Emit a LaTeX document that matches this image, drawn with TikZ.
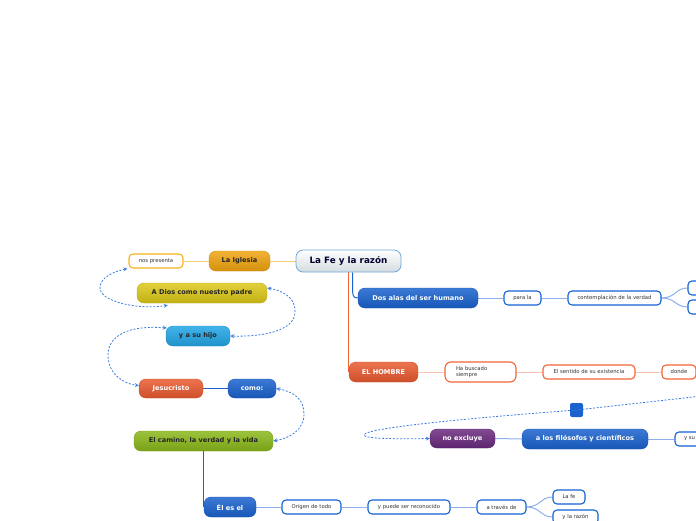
\documentclass[tikz,border=0pt]{standalone}
\usepackage{fontspec}
\setmainfont{DejaVu Sans}
\usetikzlibrary{arrows.meta,backgrounds,calc}

\definecolor{rootfill}{HTML}{D4DCE0}
\definecolor{rootline}{HTML}{6FA8DC}
\definecolor{orangetop}{HTML}{F0A410}
\definecolor{yellowtop}{HTML}{DCC818}
\definecolor{cyantop}{HTML}{22A6E6}
\definecolor{redtop}{HTML}{EA5A30}
\definecolor{bluetop}{HTML}{1A62CE}
\definecolor{greentop}{HTML}{8AB81A}
\definecolor{purpletop}{HTML}{6A2A7E}
\definecolor{subblue}{HTML}{1262D4}
\definecolor{subred}{HTML}{F06434}
\definecolor{subgold}{HTML}{F4B41C}
\definecolor{relblue}{HTML}{3C7EE0}
\definecolor{lineblue}{HTML}{8CB0EC}
\definecolor{linered}{HTML}{F8C4B0}
\definecolor{linegold}{HTML}{F8CC70}

\tikzset{
  topic/.style={rounded corners=7pt, minimum height=20pt, inner sep=0pt,
    font=\fontsize{6.6}{7.5}\selectfont\bfseries, text=white,
    draw=#1!85!black, line width=0.4pt,
    top color=#1!85!white, bottom color=#1!88!black},
  darktext/.style={text=black!85},
  sub/.style={rounded corners=4pt, minimum height=14pt, inner sep=0pt,
    font=\fontsize{5.3}{6}\selectfont, text=black!80,
    draw=#1, line width=1.1pt, fill=white},
  link/.style={draw=#1, line width=1pt},
  rel/.style={draw=relblue, line width=0.8pt, dash pattern=on 2pt off 1.6pt,
    stealth-stealth},
}

\begin{document}
\begin{tikzpicture}[x=1pt, y=-1pt]
  \useasboundingbox (0,0) rectangle (696,520);
  \clip (0,0) rectangle (696,520);
  % central topic
  \node[rounded corners=7pt, minimum height=22pt, minimum width=105pt, inner sep=0pt,
        draw=rootline, line width=0.8pt, top color=white, bottom color=rootfill,
        text=black!70!blue!60!black, font=\fontsize{8.8}{10}\selectfont\bfseries]
        (fe) at (348.5,261) {La Fe y la razón};
  % left side
  \node[topic=orangetop, darktext, minimum width=61pt] (iglesia) at (239.5,261) {La Iglesia};
  \node[sub=subgold, minimum width=54pt] (presenta) at (156,261) {nos presenta};
  \node[topic=yellowtop, darktext, minimum width=130pt] (dios) at (202,293) {A Dios como nuestro padre};
  \node[topic=cyantop, darktext, minimum width=64pt] (hijo) at (198,336) {y a su hijo};
  \node[topic=redtop, minimum width=64pt, minimum height=19pt] (jesus) at (171,388.5) {Jesucristo};
  \node[topic=bluetop, minimum width=48pt, minimum height=19pt] (como) at (252,388.5) {como:};
  \node[topic=greentop, darktext, minimum width=139pt] (camino) at (203.5,441) {El camino, la verdad y la vida};
  \node[topic=bluetop, minimum width=52pt] (eles) at (230,507) {Él es el};
  \node[sub=subblue, minimum width=59pt] (origen) at (311.5,507) {Origen de todo};
  \node[sub=subblue, minimum width=82pt] (reconocido) at (409,507) {y puede ser reconocido};
  \node[sub=subblue, minimum width=49pt] (traves) at (501.5,507) {a través de};
  \node[sub=subblue, minimum width=32pt] (lafe) at (569,497) {La fe};
  \node[sub=subblue, minimum width=45pt] (razon) at (575.5,517) {y la razón};
  % right side
  \node[topic=bluetop, minimum width=120pt] (dosalas) at (418,298) {Dos alas del ser humano};
  \node[sub=subblue, minimum width=37pt] (parala) at (522.5,298) {para la};
  \node[sub=subblue, minimum width=93pt] (contemp) at (614.5,298) {contemplación de la verdad};
  \node[sub=subblue, minimum width=40pt] (ala1) at (708,288) {};
  \node[sub=subblue, minimum width=40pt] (ala2) at (708,307) {};
  \node[topic=redtop, minimum width=69pt] (hombre) at (383.5,372) {EL HOMBRE};
  \node[sub=subred, minimum width=71pt, minimum height=20pt, text width=49pt, align=left,
        rounded corners=6pt, font=\fontsize{5.3}{5.8}\selectfont] (buscado) at (480.5,372) {Ha buscado\\siempre};
  \node[sub=subred, minimum width=92pt] (sentido) at (589,372) {El sentido de su existencia};
  \node[sub=subred, minimum width=34pt] (donde) at (679,372) {donde};
  \node[topic=purpletop, minimum width=65pt, minimum height=19pt] (noexcluye) at (462.5,438.5) {no excluye};
  \node[topic=bluetop, minimum width=126pt] (filosofos) at (585,439) {a los filósofos y científicos};
  \node[sub=subblue, minimum width=40pt, text width=22pt, align=left] (ysu) at (695,439) {y su};
  \node[rounded corners=2pt, minimum width=13pt, minimum height=14pt, inner sep=0pt,
        fill=bluetop] (mark) at (576.5,410) {};
  \coordinate (relstart) at (702,396);

  \begin{scope}[on background layer]
    % branches
    \path[link=linegold] (fe.west) -- (iglesia.east);
    \path[link=linegold] (iglesia.west) -- (presenta.east);
    \path[link=bluetop] ([xshift=4pt]fe.south) -- ++(0,14) .. controls +(0,9) and +(-5,0) .. (dosalas.west);
    \path[link=subred] (fe.south) -- (fe.south |- hombre.west);
    \path[link=lineblue] (dosalas.east) -- (parala.west);
    \path[link=lineblue] (parala.east) -- (contemp.west);
    \path[link=lineblue] (contemp.east) .. controls +(14,0) and +(-12,0) .. (ala1.west);
    \path[link=lineblue] (contemp.east) .. controls +(14,0) and +(-12,0) .. (ala2.west);
    \path[link=linered] (hombre.east) -- (buscado.west);
    \path[link=linered] (buscado.east) -- (sentido.west);
    \path[link=linered] (sentido.east) -- (donde.west);
    \path[link=lineblue] (noexcluye.east) -- (filosofos.west);
    \path[link=lineblue] (filosofos.east) -- (ysu.west);
    \path[link=bluetop] (jesus.east) -- (como.west);
    \path[link=bluetop] (camino.south) -- (camino.south |- eles.west);
    \path[link=lineblue] (eles.east) -- (origen.west);
    \path[link=lineblue] (origen.east) -- (reconocido.west);
    \path[link=lineblue] (reconocido.east) -- (traves.west);
    \path[link=lineblue] (traves.east) .. controls +(14,0) and +(-12,0) .. (lafe.west);
    \path[link=lineblue] (traves.east) .. controls +(14,0) and +(-12,0) .. (razon.west);
  \end{scope}

  % relations
  \path[rel] ([xshift=-1pt]presenta.south west) .. controls (112,272) and (100,278) .. (100,288)
     .. controls (100,302) and (140,310) .. ([xshift=31pt,yshift=-2pt]dios.south west);
  \path[rel] ([yshift=5pt]dios.east) .. controls (288,292) and (295,300) .. (295,312)
     .. controls (295,330) and (265,337) .. (hijo.east);
  \path[rel] ([xshift=1pt,yshift=8pt]hijo.west) .. controls (130,325) and (108,335) .. (108,355)
     .. controls (108,375) and (125,384) .. ([yshift=3pt]jesus.west);
  \path[rel] (como.east) .. controls (295,392) and (304,400) .. (304,414)
     .. controls (304,430) and (290,438) .. (camino.east);
  \path[rel, stealth-] (noexcluye.west) .. controls (400,439) and (364,439) .. (364,435)
     .. controls (364,428) and (470,418) .. (mark.center) -- (relstart);
\end{tikzpicture}
\end{document}
